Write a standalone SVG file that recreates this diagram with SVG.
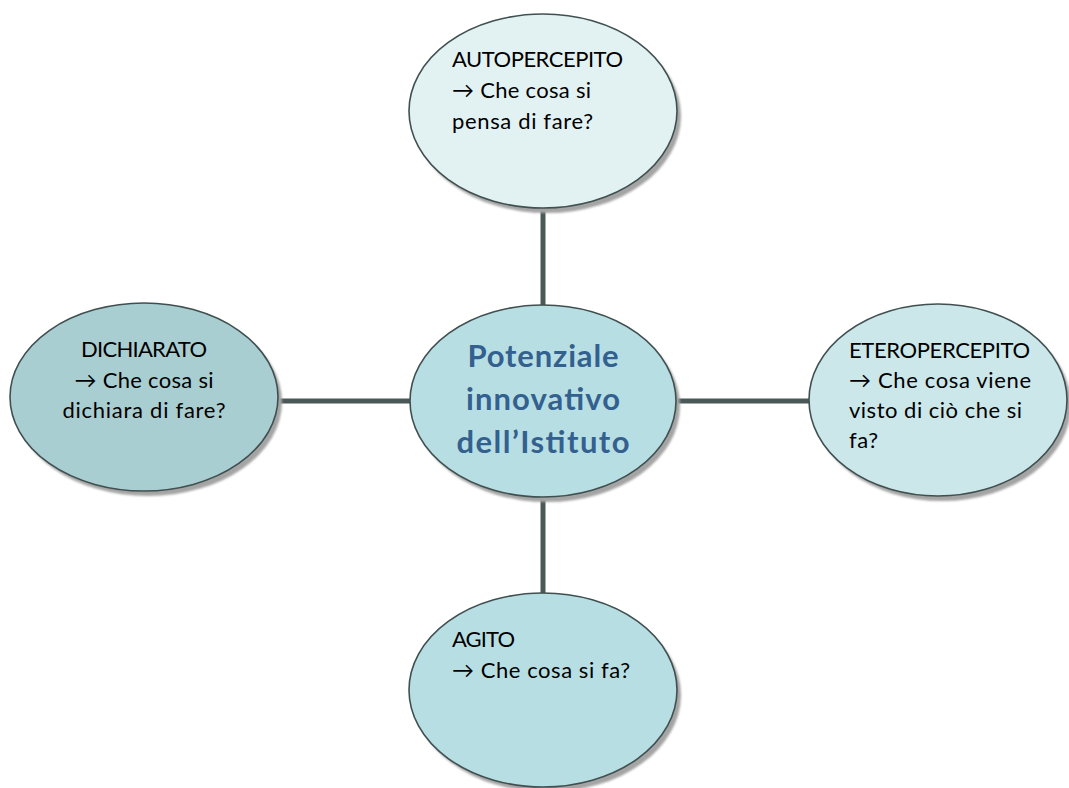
<svg xmlns="http://www.w3.org/2000/svg" width="1069" height="788" viewBox="0 0 1069 788">
<defs>
<filter id="blur" x="-10%" y="-10%" width="120%" height="120%"><feGaussianBlur stdDeviation="1.2"/></filter>
</defs>
<style>
.sh{fill:#a4a4a4;filter:url(#blur)}
.nd{stroke:#404f4f;stroke-width:1.6}
.t{font-family:Lato,"Open Sans","Liberation Sans",sans-serif;font-size:22px;fill:#000}
.m{text-anchor:middle}
.c{font-family:Lato,"Open Sans","Liberation Sans",sans-serif;font-size:31px;font-weight:bold;fill:#34608f;text-anchor:middle}
.ln{stroke:#4a5858;stroke-width:5;fill:none}
</style>
<rect width="1069" height="788" fill="#fff"/>
<g id="connectors">
<line class="ln" x1="543" y1="205" x2="543" y2="308"/>
<line class="ln" x1="543" y1="494" x2="543" y2="596"/>
<line class="ln" x1="274" y1="401" x2="413" y2="401"/>
<line class="ln" x1="674" y1="401" x2="812" y2="401"/>
</g>
<g id="autopercepito">
<ellipse class="sh" cx="547" cy="116" rx="134" ry="97"/>
<ellipse class="nd" cx="543" cy="111" rx="134" ry="97" fill="#e2f2f3"/>
<text class="t" x="452" y="67" textLength="171">AUTOPERCEPITO</text>
<text class="t" x="452" y="98" textLength="139">→ Che cosa si</text>
<text class="t" x="452" y="129" textLength="141">pensa di fare?</text>
</g>
<g id="dichiarato">
<ellipse class="sh" cx="148" cy="402" rx="134" ry="94"/>
<ellipse class="nd" cx="144" cy="397" rx="134" ry="94" fill="#a9ced1"/>
<text class="t m" x="144" y="357" textLength="126">DICHIARATO</text>
<text class="t m" x="144" y="388" textLength="139">→ Che cosa si</text>
<text class="t m" x="144" y="418" textLength="163">dichiara di fare?</text>
</g>
<g id="potenziale">
<ellipse class="sh" cx="547" cy="406" rx="133" ry="96"/>
<ellipse class="nd" cx="543" cy="401" rx="133" ry="96" fill="#b7dfe3"/>
<text class="c" x="543" y="367" textLength="151">Potenziale</text>
<text class="c" x="543" y="410" textLength="154">innovativo</text>
<text class="c" x="543" y="453" textLength="173">dell’Istituto</text>
</g>
<g id="eteropercepito">
<ellipse class="sh" cx="942" cy="405" rx="129" ry="96"/>
<ellipse class="nd" cx="938" cy="400" rx="129" ry="96" fill="#cbe7ea"/>
<text class="t" x="849" y="358" textLength="181">ETEROPERCEPITO</text>
<text class="t" x="849" y="388" textLength="182">→ Che cosa viene</text>
<text class="t" x="849" y="418" textLength="173">visto di ciò che si</text>
<text class="t" x="849" y="448" textLength="29">fa?</text>
</g>
<g id="agito">
<ellipse class="sh" cx="547" cy="695" rx="134" ry="97"/>
<ellipse class="nd" cx="543" cy="690" rx="134" ry="97" fill="#b7dfe3"/>
<text class="t" x="452" y="647" textLength="63">AGITO</text>
<text class="t" x="452" y="678" textLength="178">→ Che cosa si fa?</text>
</g>
</svg>
